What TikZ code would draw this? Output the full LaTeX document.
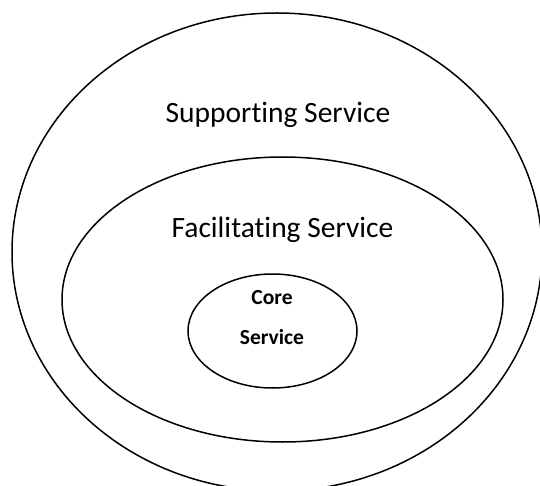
\documentclass[tikz,border=0pt]{standalone}
\usepackage{fontspec}
\setmainfont{Carlito}[Ligatures={NoCommon}]
\usetikzlibrary{shapes.geometric}
\tikzset{
  ring/.style={draw=black, line width=1.5pt, ellipse, inner sep=0pt},
  biglabel/.style={font=\fontsize{29.5}{33}\selectfont, anchor=base, inner sep=0pt},
  smalllabel/.style={font=\fontsize{21.5}{25}\selectfont\bfseries, anchor=base, inner sep=0pt}
}
\begin{document}
\begin{tikzpicture}[x=1pt,y=-1pt]
\useasboundingbox (0,0) rectangle (540,486);
\clip (0,0) rectangle (540,486);
\fill[white] (0,0) rectangle (540,486);
\node[ring, minimum width=530pt, minimum height=478pt] (outer) at (277,252) {};
\node[ring, minimum width=441pt, minimum height=285pt] (middle) at (282.5,299.5) {};
\node[ring, minimum width=169pt, minimum height=114pt] (inner) at (272.5,331) {};
\node[biglabel] (supp) at (278,123) {Supporting Service};
\node[biglabel] (fac) at (282.5,237) {Facilitating Service};
\node[smalllabel] (core) at (272,304) {Core};
\node[smalllabel] (serv) at (272,344) {Service};
\end{tikzpicture}
\end{document}
